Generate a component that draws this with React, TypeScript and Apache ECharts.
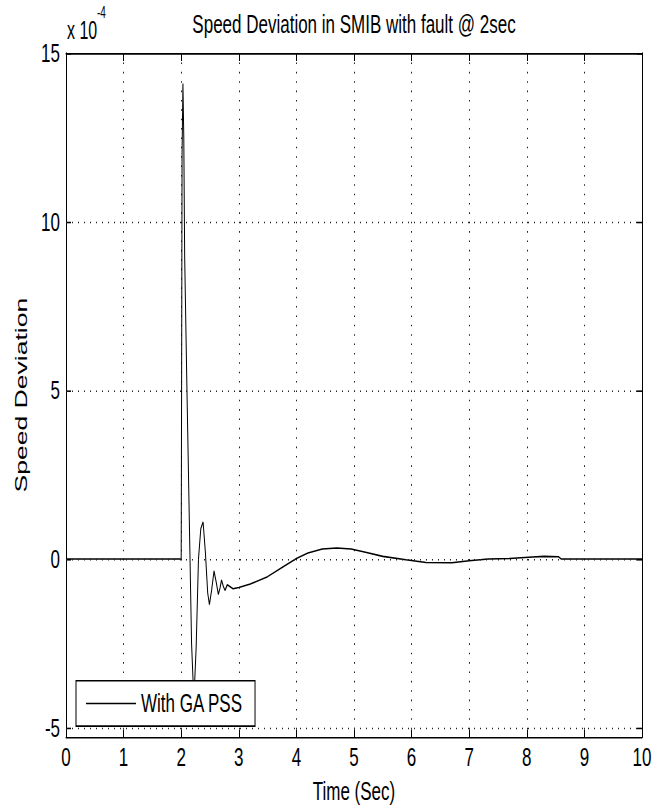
import React, { useEffect, useRef } from "react";
import * as echarts from "echarts";

// ---- data (speed deviation in units of 1e-4) ----
const timeSec = [
  0, 2.0, 2.008, 2.015, 2.03, 2.045, 2.06, 2.1, 2.15, 2.18, 2.22, 2.26, 2.3, 2.34, 2.38,
  2.42, 2.46, 2.49, 2.53, 2.57, 2.61, 2.645, 2.675, 2.7, 2.73, 2.76, 2.8, 2.85, 2.9, 3.0,
  3.2, 3.5, 3.75, 4.0, 4.2, 4.45, 4.7, 4.95, 5.2, 5.5, 5.9, 6.25, 6.7, 7.0, 7.33, 7.7,
  8.1, 8.3, 8.55, 8.6, 10,
];
const speedDev = [
  0, 0, 6, 12, 14.1, 12.5, 9.0, 5.0, 0.3, -2.5, -4.2, -2.6, 0, 0.9, 1.1,
  0.2, -1.0, -1.35, -0.9, -0.35, -0.7, -1.05, -0.85, -0.62, -0.8, -0.93, -0.76, -0.82, -0.88, -0.84,
  -0.74, -0.52, -0.25, 0.02, 0.18, 0.3, 0.33, 0.3, 0.2, 0.08, -0.02, -0.1, -0.11, -0.05, 0, 0.02,
  0.06, 0.08, 0.07, 0, 0,
];
const yTickValues = [-5, 0, 5, 10, 15];
const yGridValues = [-5, 0, 5, 10];
const yMin = -5.28;
const yMax = 15;
const xMin = 0;
const xMax = 10;
const xStep = 1;

const TITLE = "Speed Deviation in SMIB with fault @ 2sec";
const X_NAME = "Time (Sec)";
const Y_NAME = "Speed Deviation";
const SERIES_NAME = "With GA PSS";
const EXP_BASE = "x 10";
const EXP_POWER = "-4";

const FONT = "'Liberation Sans', Arial, Helvetica, sans-serif";
const W = 664;
const H = 520;
const SY = 812 / H;

export default function App() {
  const ref = useRef<HTMLDivElement>(null);
  useEffect(() => {
    if (!ref.current) return;
    const chart = echarts.init(ref.current, null, { renderer: "svg" });
    const axisLine = { show: true, onZero: false, lineStyle: { color: "#000", width: 1 } };
    const tick = { show: true, inside: true, length: 5, lineStyle: { color: "#000", width: 1 } };
    const txt = { color: "#000", fontSize: 17, fontFamily: FONT };
    chart.setOption({
      animation: false,
      backgroundColor: "#fff",
      textStyle: { fontFamily: FONT },
      title: {
        text: TITLE,
        left: 354,
        top: 6.6,
        textAlign: "center",
        padding: 0,
        textStyle: { ...txt, fontWeight: "normal" },
      },
      graphic: [
        {
          type: "text",
          x: 67,
          y: 19.4,
          style: { text: EXP_BASE, fill: "#000", fontSize: 16, fontFamily: FONT, textAlign: "left", textVerticalAlign: "middle" },
        },
        {
          type: "text",
          x: 97,
          y: 8,
          style: { text: EXP_POWER, fill: "#000", fontSize: 10, fontFamily: FONT, textAlign: "left", textVerticalAlign: "middle" },
        },
      ],
      legend: {
        data: [SERIES_NAME],
        left: 76,
        top: 436,
        backgroundColor: "#fff",
        borderColor: "#000",
        borderWidth: 1,
        borderRadius: 0,
        padding: [6, 12, 6, 10],
        icon: "rect",
        itemWidth: 50,
        itemHeight: 1,
        itemStyle: { color: "#000", borderWidth: 0 },
        textStyle: { ...txt },
      },
      grid: { left: 66, right: 22, top: 34, bottom: 41 },
      xAxis: [
        {
          type: "value",
          min: xMin,
          max: xMax,
          interval: xStep,
          position: "bottom",
          axisLine,
          axisTick: tick,
          axisLabel: { ...txt, margin: 4 },
          splitLine: { show: true, lineStyle: { type: [1, 5], color: "#222", width: 1 } },
          name: X_NAME,
          nameLocation: "middle",
          nameGap: 23.5,
          nameTextStyle: { ...txt },
        },
        {
          type: "value",
          min: xMin,
          max: xMax,
          interval: xStep,
          position: "top",
          axisLine,
          axisTick: tick,
          axisLabel: { show: false },
          splitLine: { show: false },
        },
      ],
      yAxis: [
        {
          type: "value",
          min: yMin,
          max: yMax,
          position: "left",
          axisLine,
          axisTick: { ...tick, customValues: yTickValues },
          axisLabel: { ...txt, margin: 6, customValues: yTickValues },
          splitLine: { show: false },
          name: Y_NAME,
          nameLocation: "middle",
          nameGap: 35.5,
          nameTextStyle: { ...txt },
        },
        {
          type: "value",
          min: yMin,
          max: yMax,
          position: "right",
          axisLine,
          axisTick: { ...tick, customValues: yTickValues },
          axisLabel: { show: false },
          splitLine: { show: false },
        },
      ],
      series: [
        {
          name: SERIES_NAME,
          type: "line",
          xAxisIndex: 0,
          yAxisIndex: 0,
          data: timeSec.map((t, i) => [t, speedDev[i]]),
          symbol: "none",
          showSymbol: false,
          lineStyle: { color: "#000", width: 1 },
          itemStyle: { color: "#000" },
          markLine: {
            silent: true,
            symbol: "none",
            label: { show: false },
            lineStyle: { type: [1, 5], color: "#222", width: 1 },
            data: yGridValues.map((v) => ({ yAxis: v })),
          },
        },
      ],
    });
    return () => chart.dispose();
  }, []);
  return (
    <div
      style={{
        position: "absolute",
        left: 0,
        top: 0,
        width: W,
        height: 812,
        overflow: "hidden",
        background: "#fff",
      }}
    >
      <div
        ref={ref}
        style={{ width: W, height: H, transform: `scaleY(${SY})`, transformOrigin: "0 0" }}
      />
    </div>
  );
}
